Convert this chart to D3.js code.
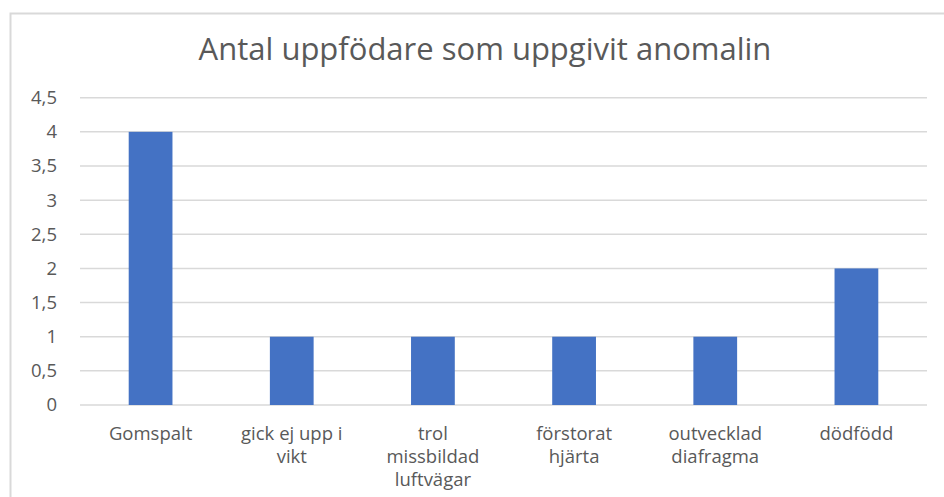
<!DOCTYPE html>
<html>
<head>
<meta charset="utf-8">
<script src="https://cdn.jsdelivr.net/npm/d3@7"></script>
<style>
  body { margin: 0; background: #fff; }
  text { font-family: "Open Sans", sans-serif; fill: #595959; }
</style>
</head>
<body>
<script>
var w = 944;
var h = 497;

// Data
var categories = ["Gomspalt", "gick ej upp i vikt", "trol missbildad luftvägar", "förstorat hjärta", "outvecklad diafragma", "dödfödd"];
var labelLines = [["Gomspalt"], ["gick ej upp i", "vikt"], ["trol", "missbildad", "luftvägar"], ["förstorat", "hjärta"], ["outvecklad", "diafragma"], ["dödfödd"]];
var values = [4, 1, 1, 1, 1, 2];
var yTicks = [0, 0.5, 1, 1.5, 2, 2.5, 3, 3.5, 4, 4.5];

var svg = d3.select("body")
            .append("svg")
            .attr("width", w)
            .attr("height", h);

// chart frame
svg.append("path")
    .attr("d", "M10.5," + h + "V13.5H" + w)
    .attr("fill", "none")
    .attr("stroke", "#d9d9d9")
    .attr("stroke-width", 2);

var plotLeft = 80, plotRight = 927, plotTop = 97.7, plotBottom = 405;

var xScale = d3.scaleBand()
               .domain(categories)
               .range([plotLeft, plotRight])
               .paddingInner(0.69)
               .paddingOuter(0.345);

var yScale = d3.scaleLinear()
               .domain([0, 4.5])
               .range([plotBottom, plotTop]);

// gridlines
svg.append("g")
    .selectAll("line")
    .data(yTicks)
    .enter()
    .append("line")
    .attr("x1", plotLeft)
    .attr("x2", plotRight)
    .attr("y1", function(d) { return yScale(d); })
    .attr("y2", function(d) { return yScale(d); })
    .attr("stroke", "#d9d9d9")
    .attr("stroke-width", 1.5);

// y axis labels
var yAxis = d3.axisLeft(yScale)
              .tickValues(yTicks)
              .tickSize(0)
              .tickPadding(23)
              .tickFormat(function(d) { return String(d).replace(".", ","); });

var yg = svg.append("g")
    .attr("transform", "translate(" + plotLeft + ",0)")
    .call(yAxis);
yg.select(".domain").remove();
yg.selectAll("text")
    .attr("font-size", "18.5px")
    .attr("font-family", "Open Sans, sans-serif")
    .attr("fill", "#595959");

// bars
svg.selectAll("rect.bar")
    .data(values)
    .enter()
    .append("rect")
    .attr("class", "bar")
    .attr("x", function(d, i) { return xScale(categories[i]); })
    .attr("width", xScale.bandwidth())
    .attr("y", function(d) { return yScale(d); })
    .attr("height", function(d) { return yScale(0) - yScale(d); })
    .attr("fill", "#4472c4");

// x labels
var xl = svg.append("g")
    .selectAll("text")
    .data(labelLines)
    .enter()
    .append("text")
    .attr("text-anchor", "middle")
    .attr("font-size", "18.5px")
    .attr("transform", function(d, i) {
        return "translate(" + (xScale(categories[i]) + xScale.bandwidth() / 2) + ",440)";
    });
xl.selectAll("tspan")
    .data(function(d) { return d; })
    .enter()
    .append("tspan")
    .attr("x", 0)
    .attr("y", function(d, i) { return i * 23; })
    .text(function(d) { return d; });

// title
svg.append("text")
    .attr("x", 485)
    .attr("y", 60)
    .attr("text-anchor", "middle")
    .attr("font-size", "31px")
    .text("Antal uppfödare som uppgivit anomalin");
</script>
</body>
</html>
